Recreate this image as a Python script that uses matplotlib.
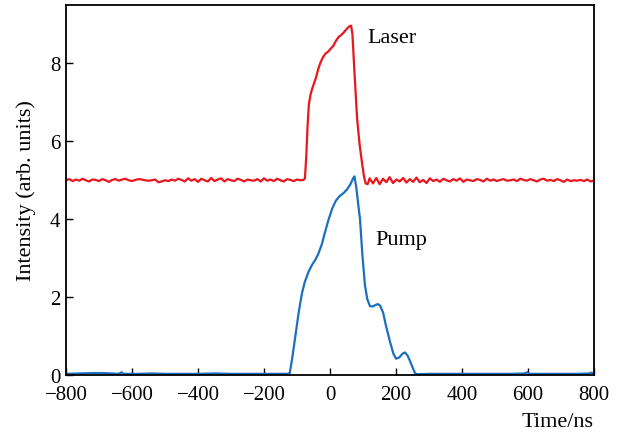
import numpy as np
import matplotlib

matplotlib.use("Agg")
import matplotlib.pyplot as plt

# laser trace: baseline before pulse, pulse, baseline after
laser_pre = [5.00, 5.03, 4.98, 5.02, 4.99, 5.04, 5.00, 4.97, 5.02, 5.01, 4.98, 5.03, 5.00, 4.96, 5.01,
             5.03, 4.99, 5.02, 5.04, 5.00, 4.98, 5.01, 5.03, 5.02, 5.00, 4.99, 5.00, 5.02, 4.95, 4.97,
             5.00, 4.98, 5.02, 4.99, 5.04, 5.01, 4.97, 5.05, 4.99, 5.03, 4.96, 5.04, 5.00, 4.97, 5.06,
             4.98, 5.02, 5.05, 4.97, 5.03, 5.00, 4.98, 5.04, 5.01, 4.97, 5.02, 5.00, 4.99, 5.03, 4.97,
             5.05, 4.99, 5.02, 4.98, 5.04, 5.00, 4.97, 5.03, 5.01, 4.98, 5.02, 5.00, 5.01]
laser_pulse_t = [-76, -72, -68, -64, -59, -54, -48, -42, -36, -29, -22, -14, -6, 2, 10, 18, 26, 34,
                 42, 50, 58, 64, 68, 74, 82, 90, 97, 103, 108, 114]
laser_pulse = [5.05, 5.6, 6.4, 6.95, 7.2, 7.35, 7.5, 7.65, 7.85, 8.02, 8.15, 8.25, 8.3, 8.38, 8.45,
               8.58, 8.68, 8.73, 8.8, 8.88, 8.95, 8.97, 8.75, 7.8, 6.6, 5.9, 5.45, 5.1, 4.92, 4.9]
laser_post = [5.05, 4.92, 5.06, 4.90, 5.04, 4.95, 5.08, 4.93, 5.02, 4.97, 5.06, 4.94, 5.03, 4.96, 5.07,
              4.95, 5.01, 4.93, 5.05, 4.98, 5.02, 4.96, 5.04, 5.00, 4.97, 5.03, 4.99, 5.05, 4.96, 5.02,
              5.00, 4.98, 5.03, 5.01, 4.97, 5.04, 4.99, 5.02, 4.98, 5.01, 5.03, 4.99, 5.00, 5.02, 4.98,
              5.04, 5.01, 4.99, 5.03, 5.00, 4.97, 5.02, 5.04, 4.99, 5.01, 4.98, 5.03, 5.00, 4.96, 5.02,
              4.98, 5.00, 4.99, 5.01, 4.98, 5.02, 4.97, 5.00]

# pump trace
pump_pre_t = [-800, -760, -720, -690, -660, -640, -632, -624, -600, -580, -540, -500, -450, -400,
              -350, -300, -250, -200, -160, -130]
pump_pre = [0.03, 0.04, 0.05, 0.05, 0.04, 0.03, 0.07, 0.03, 0.03, 0.03, 0.04, 0.03, 0.03, 0.03,
            0.04, 0.03, 0.03, 0.03, 0.03, 0.03]
pump_pulse_t = [-122, -115, -105, -95, -85, -76, -65, -55, -45, -36, -25, -15, -5, 6, 18, 30, 42,
                52, 62, 70, 74, 80, 86, 91, 98, 106, 113, 121, 130, 138, 145, 152, 161, 170, 182,
                192, 200, 210, 220, 227, 235, 242, 250, 258]
pump_pulse = [0.05, 0.4, 1.0, 1.6, 2.1, 2.4, 2.65, 2.82, 2.95, 3.1, 3.35, 3.67, 3.97, 4.26, 4.48,
              4.6, 4.68, 4.77, 4.9, 5.05, 5.1, 4.8, 4.35, 4.0, 3.1, 2.3, 1.95, 1.77, 1.76, 1.8, 1.82,
              1.78, 1.6, 1.25, 0.85, 0.55, 0.42, 0.45, 0.55, 0.58, 0.5, 0.37, 0.2, 0.04]
pump_post_t = [265, 300, 350, 400, 450, 500, 550, 590, 598, 605, 650, 700, 750, 785, 792, 800]
pump_post = [0.02, 0.03, 0.03, 0.03, 0.03, 0.03, 0.03, 0.04, 0.07, 0.03, 0.03, 0.03, 0.03, 0.04,
             0.06, 0.04]

laser_t = np.concatenate([np.linspace(-800, -80, len(laser_pre)), laser_pulse_t,
                          np.linspace(120, 800, len(laser_post))])
laser_v = np.concatenate([laser_pre, laser_pulse, laser_post])
pump_t = np.concatenate([pump_pre_t, pump_pulse_t, pump_post_t])
pump_v = np.concatenate([pump_pre, pump_pulse, pump_post])

plt.rcParams["font.family"] = ["Liberation Serif", "DejaVu Serif"]

fig = plt.figure(figsize=(6.2, 4.35), dpi=100)
ax = fig.add_axes([0.1065, 0.1356, 0.8515, 0.8505])

ax.plot(laser_t, laser_v, color="#e8161e", lw=1.6)
ax.plot(pump_t, pump_v, color="#1b6fc0", lw=1.6)

ax.text(112, 8.67, "Laser", va="center", ha="left", fontsize=16)
ax.text(139, 3.49, "Pump", va="center", ha="left", fontsize=16)

ax.set_xlim(-800, 800)
ax.set_ylim(0, 9.5)
ax.set_xticks(np.arange(-800, 801, 200))
ax.set_yticks([0, 2, 4, 6, 8])
ax.tick_params(direction="in", length=5, width=1, labelsize=15)
ax.tick_params(axis="x", pad=7)
ax.tick_params(axis="y", pad=4)
for s in ax.spines.values():
    s.set_linewidth(1.3)

ax.set_ylabel("Intensity (arb. units)", fontsize=16, labelpad=10)
ax.set_xlabel("Time/ns", fontsize=16, loc="right", labelpad=6)

fig.savefig("out.png", dpi=100)
